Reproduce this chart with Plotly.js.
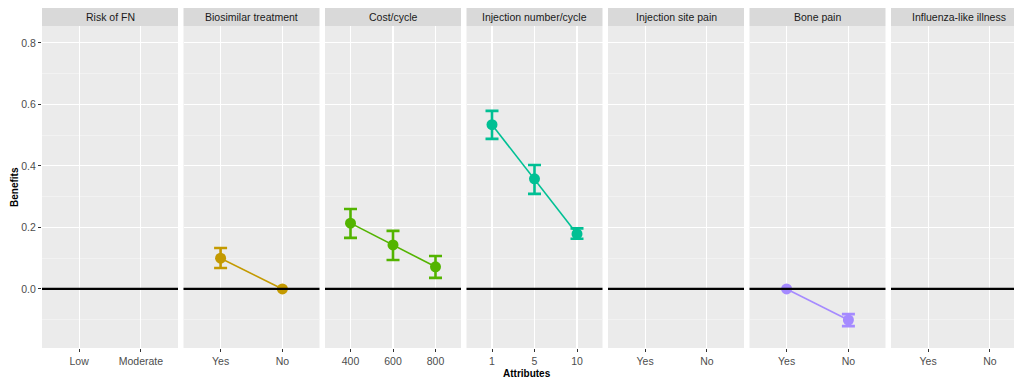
<!DOCTYPE html>
<html><head><meta charset="utf-8">
<script src="https://cdn.plot.ly/plotly-3.0.1.min.js"></script>
<style>html,body{margin:0;padding:0;background:#fff}#chart{width:1014px;height:381px}</style>
</head><body><div id="chart"></div>
<script>
// ---- data ----
const facets = ["Risk of FN","Biosimilar treatment","Cost/cycle","Injection number/cycle","Injection site pain","Bone pain","Influenza-like illness"];
const levels = [["Low","Moderate"],["Yes","No"],["400","600","800"],["1","5","10"],["Yes","No"],["Yes","No"],["Yes","No"]];
const biosimLevels = ["Yes","No"];
const biosimValue = [0.100, 0.0];
const biosimLower = [0.068, null];
const biosimUpper = [0.133, null];
const costLevels = ["400","600","800"];
const costValue = [0.214, 0.143, 0.072];
const costLower = [0.166, 0.094, 0.036];
const costUpper = [0.260, 0.189, 0.107];
const injLevels = ["1","5","10"];
const injValue = [0.534, 0.358, 0.179];
const injLower = [0.488, 0.309, 0.163];
const injUpper = [0.579, 0.403, 0.197];
const boneLevels = ["Yes","No"];
const boneValue = [0.0, -0.101];
const boneLower = [null, -0.121];
const boneUpper = [null, -0.082];
const yTicks = [0.0, 0.2, 0.4, 0.6, 0.8];

// ---- layout helpers ----
const W = 1014, ML = 42;
const plotW = W - ML;
const panelW = 136, step = 141.5;
const colors = {bio:"#C49A00", cost:"#53B400", inj:"#00C094", bone:"#A58AFF"};

const layout = {
  width: 1014, height: 381,
  margin: {l: ML, r: 0, t: 26, b: 33, pad: 0},
  paper_bgcolor: "#ffffff", plot_bgcolor: "#EBEBEB",
  showlegend: false,
  font: {family: "Liberation Sans, Arial, sans-serif", size: 10, color: "#4D4D4D"},
  yaxis: {
    range: [-0.192, 0.855], tickvals: yTicks, ticktext: yTicks.map(v => v.toFixed(1)),
    showgrid: true, gridcolor: "#FFFFFF", gridwidth: 1.1, zeroline: false,
    ticks: "outside", ticklen: 3, tickcolor: "#333333", tickwidth: 1,
    tickfont: {size: 10.5, color: "#4D4D4D"}, showline: false,
    minor: {dtick: 0.1, tick0: 0, showgrid: true, gridcolor: "#F4F4F4", gridwidth: 0.8, ticks: ""},
    anchor: "x", fixedrange: true
  },
  shapes: [], annotations: []
};

const traces = [];
facets.forEach((f, i) => {
  const n = levels[i].length;
  const x0 = (step * i) / plotW;
  const trueEnd = (step * i + panelW) / plotW;
  let x1 = trueEnd;
  let rng = [-0.6, n - 0.4];
  if (x1 > 1) {
    const frac = (1 - x0) / (x1 - x0);
    rng = [-0.6, -0.6 + (n + 0.2) * frac];
    x1 = 1;
  }
  const key = i === 0 ? "xaxis" : "xaxis" + (i + 1);
  const xr = i === 0 ? "x" : "x" + (i + 1);
  layout[key] = {
    domain: [x0, x1], type: "category", range: rng,
    categoryorder: "array", categoryarray: levels[i],
    tickvals: levels[i], ticktext: levels[i],
    showgrid: true, gridcolor: "#FFFFFF", gridwidth: 1.1, zeroline: false,
    ticks: "outside", ticklen: 3, tickcolor: "#333333",
    tickfont: {size: 10.5, color: "#4D4D4D"}, anchor: "y", fixedrange: true
  };
  traces.push({x: levels[i], y: levels[i].map(() => null), xaxis: xr, yaxis: "y", mode: "markers", hoverinfo: "skip"});
  layout.shapes.push({type: "line", xref: xr + " domain", yref: "y", x0: 0, x1: 1, y0: 0, y1: 0,
    line: {color: "#000000", width: 2.2}, layer: "above"});
  layout.shapes.push({type: "rect", xref: "paper", yref: "paper", x0: x0, x1: x1, y0: 1.0, y1: 1 + 18 / 322,
    fillcolor: "#D9D9D9", line: {width: 0}});
  layout.annotations.push({text: f, xref: "paper", yref: "paper", x: (x0 + trueEnd) / 2,
    y: 1 + 9 / 322, xanchor: "center", yanchor: "middle", showarrow: false,
    font: {size: 10.5, color: "#1A1A1A"}});
});

function series(xs, ys, lo, hi, col, xr) {
  const plus = ys.map((v, k) => hi[k] === null ? NaN : hi[k] - v);
  const minus = ys.map((v, k) => lo[k] === null ? NaN : v - lo[k]);
  return {
    x: xs, y: ys, xaxis: xr, yaxis: "y", mode: "lines+markers",
    line: {color: col, width: 1.6},
    marker: {color: col, size: 11},
    error_y: {type: "data", symmetric: false, array: plus, arrayminus: minus,
      color: col, thickness: 2.6, width: 6.5},
    hoverinfo: "x+y"
  };
}
traces.push(series(biosimLevels, biosimValue, biosimLower, biosimUpper, colors.bio, "x2"));
traces.push(series(costLevels, costValue, costLower, costUpper, colors.cost, "x3"));
traces.push(series(injLevels, injValue, injLower, injUpper, colors.inj, "x4"));
traces.push(series(boneLevels, boneValue, boneLower, boneUpper, colors.bone, "x6"));

layout.annotations.push({text: "<b>Benefits</b>", xref: "paper", yref: "paper", x: -28 / plotW, y: 0.5,
  xanchor: "center", yanchor: "middle", textangle: -90, showarrow: false, font: {size: 10, color: "#000000"}});
layout.annotations.push({text: "<b>Attributes</b>", xref: "paper", yref: "paper", x: (527 - ML) / plotW, y: -25 / 322,
  xanchor: "center", yanchor: "middle", showarrow: false, font: {size: 10, color: "#000000"}});

Plotly.newPlot("chart", traces, layout, {displayModeBar: false, staticPlot: true});
</script>
</body></html>
